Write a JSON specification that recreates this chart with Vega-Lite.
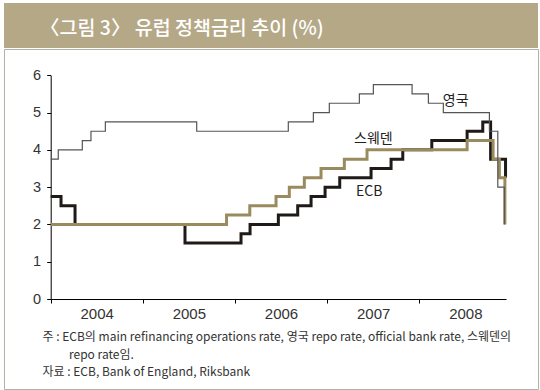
{
  "$schema": "https://vega.github.io/schema/vega-lite/v6.json",
  "padding": {"left": 3, "top": 3, "right": 3, "bottom": 2},
  "background": "white",
  "spacing": 0,
  "config": {"view": {"stroke": null}, "font": "Liberation Sans"},
  "datasets": {
    "rates": [
      {"series": "ECB", "t": 2004.0, "v": 2.75},
      {"series": "ECB", "t": 2004.112, "v": 2.5},
      {"series": "ECB", "t": 2004.264, "v": 2.0},
      {"series": "ECB", "t": 2005.457, "v": 1.5},
      {"series": "ECB", "t": 2006.065, "v": 1.75},
      {"series": "ECB", "t": 2006.163, "v": 2.0},
      {"series": "ECB", "t": 2006.47, "v": 2.25},
      {"series": "ECB", "t": 2006.68, "v": 2.5},
      {"series": "ECB", "t": 2006.825, "v": 2.75},
      {"series": "ECB", "t": 2006.977, "v": 3.0},
      {"series": "ECB", "t": 2007.136, "v": 3.25},
      {"series": "ECB", "t": 2007.476, "v": 3.5},
      {"series": "ECB", "t": 2007.693, "v": 3.75},
      {"series": "ECB", "t": 2007.82, "v": 4.0},
      {"series": "ECB", "t": 2008.135, "v": 4.25},
      {"series": "ECB", "t": 2008.518, "v": 4.5},
      {"series": "ECB", "t": 2008.688, "v": 4.75},
      {"series": "ECB", "t": 2008.773, "v": 3.75},
      {"series": "ECB", "t": 2008.935, "v": 3.25},
      {"series": "Sweden", "t": 2004.0, "v": 2.0},
      {"series": "Sweden", "t": 2005.908, "v": 2.25},
      {"series": "Sweden", "t": 2006.16, "v": 2.5},
      {"series": "Sweden", "t": 2006.445, "v": 2.75},
      {"series": "Sweden", "t": 2006.589, "v": 3.0},
      {"series": "Sweden", "t": 2006.752, "v": 3.25},
      {"series": "Sweden", "t": 2006.933, "v": 3.5},
      {"series": "Sweden", "t": 2007.186, "v": 3.75},
      {"series": "Sweden", "t": 2007.432, "v": 4.0},
      {"series": "Sweden", "t": 2008.518, "v": 4.25},
      {"series": "Sweden", "t": 2008.8, "v": 3.75},
      {"series": "Sweden", "t": 2008.868, "v": 3.25},
      {"series": "Sweden", "t": 2008.928, "v": 2.0},
      {"series": "UK", "t": 2004.0, "v": 3.75},
      {"series": "UK", "t": 2004.082, "v": 4.0},
      {"series": "UK", "t": 2004.343, "v": 4.25},
      {"series": "UK", "t": 2004.437, "v": 4.5},
      {"series": "UK", "t": 2004.593, "v": 4.75},
      {"series": "UK", "t": 2005.584, "v": 4.5},
      {"series": "UK", "t": 2006.578, "v": 4.75},
      {"series": "UK", "t": 2006.85, "v": 5.0},
      {"series": "UK", "t": 2007.023, "v": 5.25},
      {"series": "UK", "t": 2007.349, "v": 5.5},
      {"series": "UK", "t": 2007.501, "v": 5.75},
      {"series": "UK", "t": 2007.921, "v": 5.5},
      {"series": "UK", "t": 2008.098, "v": 5.25},
      {"series": "UK", "t": 2008.26, "v": 5.0},
      {"series": "UK", "t": 2008.76, "v": 4.5},
      {"series": "UK", "t": 2008.851, "v": 3.0},
      {"series": "UK", "t": 2008.922, "v": 2.0}
    ],
    "labels": [
      {"label": "영국", "t": 2008.254, "v": 5.31},
      {"label": "스웨덴", "t": 2007.291, "v": 4.29},
      {"label": "ECB", "t": 2007.313, "v": 2.87}
    ]
  },
  "vconcat": [
    {
      "width": 534,
      "height": 45,
      "view": {"fill": "#b5a887", "stroke": null},
      "data": {"values": [{"title": "〈그림 3〉 유럽 정책금리 추이 (%)"}]},
      "mark": {"type": "text", "align": "left", "baseline": "middle", "font": "Noto Sans CJK KR", "fontSize": 19.5, "fontWeight": 500, "color": "#ffffff"},
      "encoding": {
        "text": {"field": "title"},
        "x": {"value": 36},
        "y": {"value": 26}
      }
    },
    {
      "width": 534,
      "height": 340,
      "view": {"stroke": "#b3b0a5", "strokeWidth": 1},
      "layer": [
        {
          "data": {"name": "rates"},
          "transform": [{"filter": "datum.series == 'ECB'"}],
          "mark": {"type": "line", "interpolate": "step-after", "color": "#1f1a17", "strokeWidth": 3, "strokeJoin": "miter", "strokeCap": "butt"},
          "encoding": {
            "x": {"field": "t", "type": "quantitative",
              "scale": {"domain": [2004, 2008.94], "range": [46.7, 502], "nice": false, "zero": false},
              "axis": {"values": [2004, 2005, 2006, 2007, 2008], "format": "d", "labelOffset": 46, "offset": -90,
                "labelFlush": false, "labelOverlap": false, "labelBound": false, "grid": false, "title": null,
                "domainColor": "#000000", "tickColor": "#000000", "tickSize": 4, "labelFontSize": 15, "labelColor": "#333333", "labelPadding": 3, "labelFont": "Liberation Sans"}},
            "y": {"field": "v", "type": "quantitative",
              "scale": {"domain": [0, 6], "range": [250, 26.3], "nice": false},
              "axis": {"values": [0, 1, 2, 3, 4, 5, 6], "format": "d", "offset": -46.7, "labelFlush": false, "labelOverlap": false, "grid": false, "title": null,
                "domainColor": "#000000", "tickColor": "#000000", "tickSize": 4, "labelFontSize": 14.5, "labelColor": "#333333", "labelPadding": 6, "labelFont": "Liberation Sans"}}
          }
        },
        {
          "data": {"name": "rates"},
          "transform": [{"filter": "datum.series == 'Sweden'"}],
          "mark": {"type": "line", "interpolate": "step-after", "color": "#9a8b5e", "strokeWidth": 3, "strokeJoin": "miter", "strokeCap": "butt"},
          "encoding": {
            "x": {"field": "t", "type": "quantitative"},
            "y": {"field": "v", "type": "quantitative"}
          }
        },
        {
          "data": {"name": "rates"},
          "transform": [{"filter": "datum.series == 'UK'"}],
          "mark": {"type": "line", "interpolate": "step-after", "color": "#555555", "strokeWidth": 1.2, "strokeJoin": "miter"},
          "encoding": {
            "x": {"field": "t", "type": "quantitative"},
            "y": {"field": "v", "type": "quantitative"}
          }
        },
        {
          "data": {"name": "labels"},
          "mark": {"type": "text", "align": "left", "baseline": "middle", "font": "Noto Sans CJK KR", "fontSize": 14, "color": "#222222"},
          "encoding": {
            "x": {"field": "t", "type": "quantitative"},
            "y": {"field": "v", "type": "quantitative"},
            "text": {"field": "label"}
          }
        },
        {
          "data": {"values": [{"line": "주 : ECB의 main refinancing operations rate, 영국 repo rate, official bank rate, 스웨덴의"}]},
          "mark": {"type": "text", "align": "left", "baseline": "middle", "font": "Noto Sans CJK KR", "fontSize": 12, "color": "#333333"},
          "encoding": {"text": {"field": "line"}, "x": {"value": 38.5}, "y": {"value": 288}}
        },
        {
          "data": {"values": [{"line": "repo rate임."}]},
          "mark": {"type": "text", "align": "left", "baseline": "middle", "font": "Noto Sans CJK KR", "fontSize": 12, "color": "#333333"},
          "encoding": {"text": {"field": "line"}, "x": {"value": 65}, "y": {"value": 305.5}}
        },
        {
          "data": {"values": [{"line": "자료 : ECB, Bank of England, Riksbank"}]},
          "mark": {"type": "text", "align": "left", "baseline": "middle", "font": "Noto Sans CJK KR", "fontSize": 12, "color": "#333333"},
          "encoding": {"text": {"field": "line"}, "x": {"value": 38.5}, "y": {"value": 323}}
        }
      ]
    }
  ]
}
